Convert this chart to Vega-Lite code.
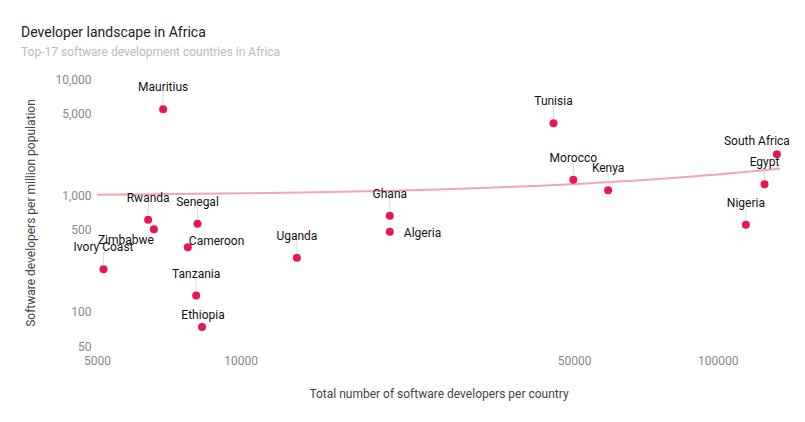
{
  "$schema": "https://vega.github.io/schema/vega-lite/v6.json",
  "width": 683,
  "height": 267,
  "autosize": {"type": "none"},
  "padding": {"left": 97, "top": 79, "right": 25, "bottom": 76},
  "background": "white",
  "title": {
    "text": "Developer landscape in Africa",
    "subtitle": "Top-17 software development countries in Africa",
    "anchor": "start",
    "frame": "group",
    "dx": -76,
    "offset": 15,
    "font": "Roboto",
    "fontSize": 14,
    "fontWeight": "normal",
    "color": "#222222",
    "subtitleFont": "Roboto",
    "subtitleFontSize": 12,
    "subtitleColor": "#bbbbbb",
    "subtitlePadding": 7
  },
  "data": {
    "values": [
      {"country": "Mauritius", "devs": 6880, "per_million": 5480},
      {"country": "Tunisia", "devs": 45250, "per_million": 4150},
      {"country": "South Africa", "devs": 133000, "per_million": 2245},
      {"country": "Morocco", "devs": 49800, "per_million": 1355},
      {"country": "Kenya", "devs": 58900, "per_million": 1100},
      {"country": "Egypt", "devs": 125300, "per_million": 1237},
      {"country": "Nigeria", "devs": 114500, "per_million": 555},
      {"country": "Ghana", "devs": 20540, "per_million": 663},
      {"country": "Algeria", "devs": 20540, "per_million": 483},
      {"country": "Uganda", "devs": 13120, "per_million": 288},
      {"country": "Rwanda", "devs": 6400, "per_million": 612},
      {"country": "Zimbabwe", "devs": 6580, "per_million": 506},
      {"country": "Senegal", "devs": 8120, "per_million": 566},
      {"country": "Cameroon", "devs": 7750, "per_million": 354},
      {"country": "Ivory Coast", "devs": 5160, "per_million": 229},
      {"country": "Tanzania", "devs": 8070, "per_million": 136},
      {"country": "Ethiopia", "devs": 8300, "per_million": 73}
    ]
  },
  "encoding": {
    "x": {
      "field": "devs",
      "type": "quantitative",
      "scale": {"type": "log", "domain": [5000, 135000], "nice": false},
      "axis": {
        "title": "Total number of software developers per country",
        "values": [5000, 10000, 50000, 100000],
        "format": "d",
        "grid": false,
        "domain": false,
        "ticks": false,
        "tickSize": 0,
        "labelFlush": false,
        "labelPadding": 9,
        "labelFont": "Roboto",
        "labelFontSize": 12,
        "labelColor": "#888888",
        "titleFont": "Roboto",
        "titleFontSize": 12,
        "titleFontWeight": "normal",
        "titleColor": "#444444",
        "titleY": 47,
        "titleBaseline": "middle"
      }
    },
    "y": {
      "field": "per_million",
      "type": "quantitative",
      "scale": {"type": "log", "domain": [50, 10000], "nice": false},
      "axis": {
        "title": "Software developers per million population",
        "values": [50, 100, 500, 1000, 5000, 10000],
        "format": ",",
        "grid": false,
        "domain": false,
        "ticks": false,
        "tickSize": 0,
        "labelPadding": 6,
        "labelFont": "Roboto",
        "labelFontSize": 12,
        "labelColor": "#888888",
        "titleFont": "Roboto",
        "titleFontSize": 12,
        "titleFontWeight": "normal",
        "titleColor": "#444444",
        "titleX": -67,
        "titleBaseline": "middle"
      }
    }
  },
  "layer": [
    {
      "transform": [
        {"regression": "per_million", "on": "devs", "method": "poly", "order": 1, "extent": [5000, 135000]}
      ],
      "mark": {"type": "line", "color": "#F4A3B8", "strokeWidth": 2, "clip": true}
    },
    {
      "transform": [
        {"filter": {"field": "country", "oneOf": ["Mauritius", "Tunisia", "Egypt", "Nigeria", "Morocco", "Kenya", "Ghana", "Uganda", "Rwanda", "Senegal", "Tanzania", "Ivory Coast"]}}
      ],
      "mark": {"type": "point", "shape": "M0,-1L0,1", "size": 144, "yOffset": -11, "filled": false, "color": "#dddddd", "strokeWidth": 1, "opacity": 1}
    },
    {
      "mark": {"type": "circle", "size": 64, "color": "#E8174E", "opacity": 1}
    },
    {
      "transform": [
        {"filter": {"field": "country", "oneOf": ["Mauritius", "Tunisia", "Egypt", "Nigeria", "Morocco", "Kenya", "Ghana", "Uganda", "Rwanda", "Senegal", "Tanzania", "Ivory Coast"]}}
      ],
      "mark": {"type": "text", "font": "Roboto", "fontSize": 12, "color": "#111111", "align": "center", "baseline": "alphabetic", "dy": -18},
      "encoding": {"text": {"field": "country"}}
    },
    {
      "transform": [{"filter": {"field": "country", "equal": "South Africa"}}],
      "mark": {"type": "text", "font": "Roboto", "fontSize": 12, "color": "#111111", "align": "center", "baseline": "alphabetic", "dx": -20, "dy": -9},
      "encoding": {"text": {"field": "country"}}
    },
    {
      "transform": [{"filter": {"field": "country", "equal": "Ethiopia"}}],
      "mark": {"type": "text", "font": "Roboto", "fontSize": 12, "color": "#111111", "align": "center", "baseline": "alphabetic", "dx": 1, "dy": -8},
      "encoding": {"text": {"field": "country"}}
    },
    {
      "transform": [{"filter": {"field": "country", "equal": "Algeria"}}],
      "mark": {"type": "text", "font": "Roboto", "fontSize": 12, "color": "#111111", "align": "left", "baseline": "alphabetic", "dx": 14, "dy": 5.5},
      "encoding": {"text": {"field": "country"}}
    },
    {
      "transform": [{"filter": {"field": "country", "equal": "Cameroon"}}],
      "mark": {"type": "text", "font": "Roboto", "fontSize": 12, "color": "#111111", "align": "left", "baseline": "alphabetic", "dx": 1, "dy": -2},
      "encoding": {"text": {"field": "country"}}
    },
    {
      "transform": [{"filter": {"field": "country", "equal": "Zimbabwe"}}],
      "mark": {"type": "text", "font": "Roboto", "fontSize": 12, "color": "#111111", "align": "right", "baseline": "alphabetic", "dx": 0, "dy": 15},
      "encoding": {"text": {"field": "country"}}
    }
  ],
  "config": {"view": {"stroke": null}, "font": "Roboto"}
}
